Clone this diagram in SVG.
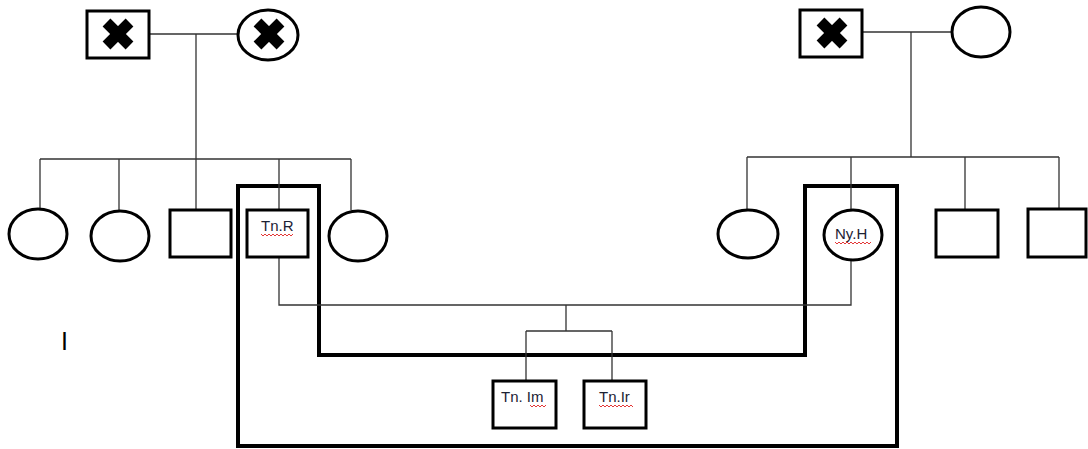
<svg xmlns="http://www.w3.org/2000/svg" width="1088" height="449" viewBox="0 0 1088 449">
<defs>
<style>
.node{fill:#fff;stroke:#000;stroke-width:3}
.frame{fill:none;stroke:#000;stroke-width:4;stroke-linejoin:miter}
.conn{fill:none;stroke:#333;stroke-width:1.3}
.x{stroke:#000;stroke-width:11;stroke-linecap:butt}
.lbl{font-family:"Liberation Sans",Arial,sans-serif;font-size:15px;fill:#1c2233}
.sq{fill:none;stroke:#e02020;stroke-width:0.9}
</style>
<g id="cross"><line class="x" x1="-11.5" y1="-11.5" x2="11.5" y2="11.5"/><line class="x" x1="-11.5" y1="11.5" x2="11.5" y2="-11.5"/></g>
</defs>
<rect width="1088" height="449" fill="#fff"/>

<g id="frame">
<path class="frame" d="M238,186 L238,446 L897,446 L897,186 L805,186 L805,355 L319,355 L319,186 Z"/>
</g>

<g id="connectors">
<path class="conn" d="M150,34 H238 M196,34 V159 M40,159 H351 M40,159 V210 M119,159 V210 M196,159 V210 M279,159 V210 M351,159 V210"/>
<path class="conn" d="M862,32 H951 M911,32 V157 M747,157 H1059 M747,157 V210 M851,157 V210 M965,157 V210 M1059,157 V210"/>
<path class="conn" d="M279,257 V305 H851 V260 M566,305 V331 M526,331 H612 M526,331 V381 M612,331 V381"/>
</g>

<g id="gp-left-father"><rect class="node" x="87" y="11" width="62" height="47"/><use href="#cross" x="118" y="34"/></g>
<g id="gp-left-mother"><ellipse class="node" cx="268" cy="35" rx="30" ry="25"/><use href="#cross" x="269" y="34"/></g>
<g id="gp-right-father"><rect class="node" x="800" y="10" width="62" height="47"/><use href="#cross" x="832" y="33"/></g>
<g id="gp-right-mother"><ellipse class="node" cx="981" cy="32" rx="29" ry="25"/></g>

<g id="l-child1"><ellipse class="node" cx="38" cy="234" rx="29" ry="25"/></g>
<g id="l-child2"><ellipse class="node" cx="120" cy="236" rx="29" ry="25"/></g>
<g id="l-child3"><rect class="node" x="170" y="210" width="61" height="47"/></g>
<g id="tn-r"><rect class="node" x="247" y="210" width="61" height="47"/><text class="lbl" x="261" y="231">Tn.R</text><path class="sq" d="M261,234 l2,2 l2,-2 l2,2 l2,-2 l2,2 l2,-2 l2,2 l2,-2 l2,2 l2,-2 l2,2 l2,-2 l2,2 l2,-2 l2,2 l2,-2"/></g>
<g id="l-child5"><ellipse class="node" cx="358" cy="236" rx="29" ry="25"/></g>

<g id="r-child1"><ellipse class="node" cx="748" cy="234" rx="30" ry="24"/></g>
<g id="ny-h"><ellipse class="node" cx="853" cy="235" rx="29" ry="25"/><text class="lbl" x="835" y="239">Ny.H</text><path class="sq" d="M835,242 l2,2 l2,-2 l2,2 l2,-2 l2,2 l2,-2 l2,2 l2,-2 l2,2 l2,-2 l2,2 l2,-2 l2,2 l2,-2 l2,2 l2,-2 l2,2 l2,-2"/></g>
<g id="r-child3"><rect class="node" x="936" y="210" width="62" height="47"/></g>
<g id="r-child4"><rect class="node" x="1028" y="209" width="58" height="48"/></g>

<g id="tn-im"><rect class="node" x="493" y="381" width="63" height="47"/><text class="lbl" x="501" y="402">Tn. Im</text><path class="sq" d="M530,405 l2,2 l2,-2 l2,2 l2,-2 l2,2 l2,-2 l2,2 l2,-2"/></g>
<g id="tn-ir"><rect class="node" x="584" y="381" width="62" height="47"/><text class="lbl" x="599" y="402">Tn.Ir</text><path class="sq" d="M599,405 l2,2 l2,-2 l2,2 l2,-2 l2,2 l2,-2 l2,2 l2,-2 l2,2 l2,-2 l2,2 l2,-2 l2,2 l2,-2 l2,2 l2,-2 l2,2"/></g>

<text x="61" y="350" style="font-family:'Liberation Sans',Arial,sans-serif;font-size:25px;fill:#000">I</text>
</svg>
